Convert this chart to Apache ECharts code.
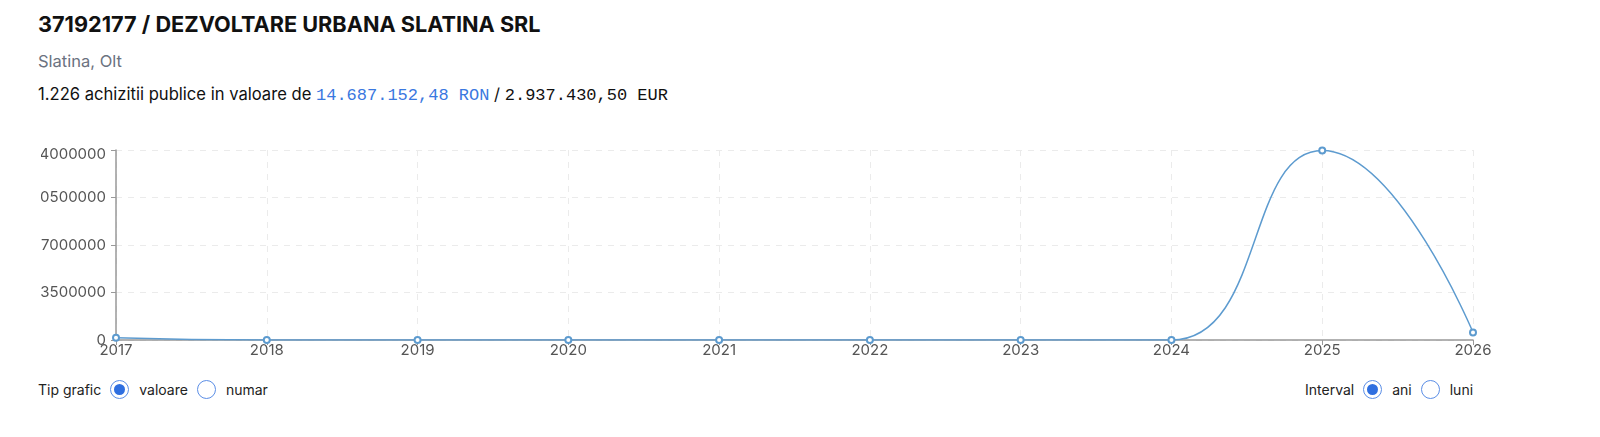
<!DOCTYPE html>
<html>
<head>
<meta charset="utf-8">
<script src="https://cdn.jsdelivr.net/npm/echarts@6/dist/echarts.min.js"></script>
<style>
  body { margin:0; background:#fff; font-family: Inter, "Noto Sans", sans-serif; color:#111; width:1600px; height:437px; position:relative; overflow:hidden; }
  .title { position:absolute; left:38px; top:11px; font-size:21.7px; font-weight:700; }
  .sub { position:absolute; left:38px; top:51px; font-size:16.5px; color:#6b7280; }
  .line3 { position:absolute; left:38px; top:84px; font-size:16.6px; }
  .mono { font-family: "Liberation Mono", "DejaVu Sans Mono", monospace; font-size:17px; }
  .blue { color:#3a78e0; }
  #chart { position:absolute; left:41px; top:130px; width:1459px; height:235px; }
  .radios { position:absolute; top:380px; display:flex; align-items:center; font-size:14px; color:#222; }
  .r { width:19px; height:19px; border:1.5px solid #5b8ee6; border-radius:50%; box-sizing:border-box; display:inline-flex; align-items:center; justify-content:center; margin:0 10px 0 9px; }
  .r.on::after { content:""; width:11px; height:11px; border-radius:50%; background:#2f6fe0; }
</style>
</head>
<body>
<div class="title">37192177 / DEZVOLTARE URBANA SLATINA SRL</div>
<div class="sub">Slatina, Olt</div>
<div class="line3">1.226 achizitii publice in valoare de <span class="mono blue">14.687.152,48 RON</span> / <span class="mono">2.937.430,50 EUR</span></div>
<div id="chart"></div>
<div class="radios" style="left:38px;">Tip grafic<span class="r on"></span>valoare<span class="r"></span>numar</div>
<div class="radios" style="left:1305px;">Interval<span class="r on"></span>ani<span class="r"></span>luni</div>
<script>
const years = ['2017','2018','2019','2020','2021','2022','2023','2024','2025','2026'];
const values = [167152, 0, 0, 0, 0, 0, 0, 0, 13960000, 560000];
const yMax = 14000000;
const yInterval = 3500000;

const chart = echarts.init(document.getElementById('chart'));
const labelFont = 'Inter, "Noto Sans", sans-serif';
chart.setOption({
  animation: false,
  grid: { left: 75, right: 27, top: 20, bottom: 25, containLabel: false, outerBoundsMode: 'none' },
  xAxis: {
    type: 'category', data: years, boundaryGap: false,
    axisLine: { lineStyle: { color: '#999', width: 1.5 } },
    axisTick: { show: true, alignWithLabel: true, lineStyle: { color: '#999' }, length: 5 },
    axisLabel: { color: '#555', fontSize: 15, margin: 3, fontFamily: labelFont },
    splitLine: { show: true, lineStyle: { color: '#ebebeb', type: [6, 6] } }
  },
  yAxis: {
    type: 'value', min: 0, max: yMax, interval: yInterval,
    axisLine: { show: true, lineStyle: { color: '#999', width: 1.5 } },
    axisTick: { show: true, lineStyle: { color: '#999' }, length: 5 },
    axisLabel: {
      color: '#555', fontSize: 15, margin: 10, fontFamily: labelFont,
      formatter: v => v === yMax ? '{top|' + v + '}' : String(v),
      rich: { top: { color: '#555', fontSize: 15, fontFamily: labelFont, padding: [9, 0, 0, 0] } }
    },
    splitLine: { show: true, lineStyle: { color: '#ebebeb', type: [6, 6] } }
  },
  series: [{
    type: 'line', data: values, smooth: 0.5,
    symbol: 'emptyCircle', symbolSize: 6,
    lineStyle: { color: '#5d9bcf', width: 1.5 },
    itemStyle: { color: '#5d9bcf', borderWidth: 1.5 }
  }]
});
</script>
</body>
</html>
